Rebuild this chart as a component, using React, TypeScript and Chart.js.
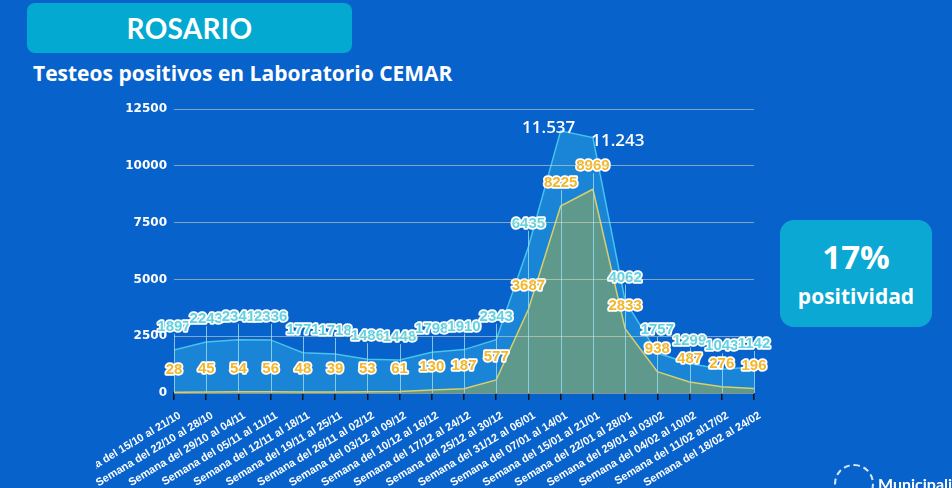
import React, { useEffect, useRef } from "react";
import { Chart, registerables } from "chart.js";

Chart.register(...registerables);

const categories = [
  "Semana del 15/10 al 21/10",
  "Semana del 22/10 al 28/10",
  "Semana del 29/10 al 04/11",
  "Semana del 05/11 al 11/11",
  "Semana del 12/11 al 18/11",
  "Semana del 19/11 al 25/11",
  "Semana del 26/11 al 02/12",
  "Semana del 03/12 al 09/12",
  "Semana del 10/12 al 16/12",
  "Semana del 17/12 al 24/12",
  "Semana del 25/12 al 30/12",
  "Semana del 31/12 al 06/01",
  "Semana del 07/01 al 14/01",
  "Semana del 15/01 al 21/01",
  "Semana del 22/01 al 28/01",
  "Semana del 29/01 al 03/02",
  "Semana del 04/02 al 10/02",
  "Semana del 11/02 al17/02",
  "Semana del 18/02 al 24/02",
];

const testeos = [1897, 2243, 2341, 2336, 1771, 1718, 1486, 1448, 1798, 1910, 2343, 6435, 11537, 11243, 4062, 1757, 1299, 1043, 1142];
const positivos = [28, 45, 54, 56, 48, 39, 53, 61, 130, 187, 577, 3687, 8225, 8969, 2833, 938, 487, 276, 196];
const peakIndices = [12, 13];
const yTicks = [0, 2500, 5000, 7500, 10000, 12500];

const BG = "#0862cc";
const CYAN_TEXT = "#62d2e0";
const GOLD_TEXT = "#f4b62a";

function fmtThousands(v: number) {
  const s = String(v);
  return s.replace(/\B(?=(\d{3})+(?!\d))/g, ".");
}

const labelPlugin = {
  id: "valueLabels",
  afterDatasetsDraw(chart: any) {
    const ctx = chart.ctx;
    const xs = chart.scales.x;
    const ys = chart.scales.y;
    const base = ys.getPixelForValue(0);
    const LIFT = 23;
    ctx.save();
    ctx.strokeStyle = "rgba(150,215,240,0.85)";
    ctx.lineWidth = 1;
    for (let i = 0; i < categories.length; i++) {
      const px = Math.round(xs.getPixelForValue(i)) + 0.5;
      const isPeak = peakIndices.includes(i);
      const v = isPeak ? positivos[i] : testeos[i];
      const top = ys.getPixelForValue(v) - LIFT + 7;
      ctx.beginPath();
      ctx.moveTo(px, top);
      ctx.lineTo(px, base);
      ctx.stroke();
    }
    const drawLabel = (text: string, x: number, y: number, fill: string) => {
      ctx.font = "bold 15px 'Liberation Sans', Arial, sans-serif";
      ctx.textAlign = "center";
      ctx.textBaseline = "middle";
      ctx.lineJoin = "round";
      ctx.lineWidth = 3.5;
      ctx.strokeStyle = "#ffffff";
      ctx.strokeText(text, x, y);
      ctx.fillStyle = fill;
      ctx.fillText(text, x, y);
    };
    for (let i = 0; i < categories.length; i++) {
      const px = xs.getPixelForValue(i);
      drawLabel(String(positivos[i]), px, ys.getPixelForValue(positivos[i]) - LIFT, GOLD_TEXT);
    }
    for (let i = 0; i < categories.length; i++) {
      if (peakIndices.includes(i)) continue;
      const px = xs.getPixelForValue(i);
      drawLabel(String(testeos[i]), px, ys.getPixelForValue(testeos[i]) - LIFT, CYAN_TEXT);
    }
    ctx.font = "600 17px 'Open Sans', sans-serif";
    ctx.textAlign = "center";
    ctx.textBaseline = "middle";
    ctx.fillStyle = "#ffffff";
    const offs = [
      [-12, -3],
      [25, 4],
    ];
    peakIndices.forEach((idx, k) => {
      const px = xs.getPixelForValue(idx);
      const py = ys.getPixelForValue(testeos[idx]);
      ctx.fillText(fmtThousands(testeos[idx]), px + offs[k][0], py + offs[k][1]);
    });
    ctx.restore();
  },
};

function ChartView() {
  const ref = useRef<HTMLCanvasElement | null>(null);
  useEffect(() => {
    if (!ref.current) return;
    const chart = new Chart(ref.current, {
      type: "line",
      data: {
        labels: categories,
        datasets: [
          {
            label: "Positivos",
            data: positivos,
            order: 0,
            fill: "origin",
            backgroundColor: "#5f998c",
            borderColor: "#d6cf6c",
            borderWidth: 1.5,
            pointRadius: 0,
            tension: 0,
          },
          {
            label: "Testeos",
            data: testeos,
            order: 1,
            fill: "origin",
            backgroundColor: "#1a84d6",
            borderColor: "#48c2ee",
            borderWidth: 1.5,
            pointRadius: 0,
            tension: 0,
          },
        ],
      },
      options: {
        animation: false,
        responsive: false,
        maintainAspectRatio: false,
        layout: { padding: { top: 109, right: 198, bottom: 0, left: 0 } },
        plugins: { legend: { display: false }, tooltip: { enabled: false } },
        scales: {
          x: {
            type: "category",
            offset: false,
            grid: { drawOnChartArea: false, drawTicks: true, tickLength: 7, color: "#10151c", lineWidth: 1.5 },
            border: { display: true, color: "#10151c", width: 1.5 },
            ticks: {
              color: "#ffffff",
              font: { family: "'Liberation Sans', Arial, sans-serif", size: 11, weight: "bold" },
              minRotation: 31,
              maxRotation: 31,
              autoSkip: false,
              padding: 9,
              labelOffset: 6,
            },
            afterFit: (s: any) => {
              s.height = 95;
              s.paddingLeft = 0;
              s.paddingRight = 0;
            },
          },
          y: {
            min: 0,
            max: 12500,
            afterBuildTicks: (s: any) => {
              s.ticks = yTicks.map((v) => ({ value: v }));
            },
            grid: { color: "rgba(225,222,190,0.55)", lineWidth: 1, drawTicks: false, z: 1 },
            border: { display: false },
            ticks: {
              color: "#ffffff",
              font: { family: "'DejaVu Sans', sans-serif", size: 12, weight: "bold" },
              padding: 7,
              callback: (v: any) => String(v),
            },
            afterFit: (s: any) => {
              s.width = 78;
            },
          },
        },
      },
      plugins: [labelPlugin],
    });
    return () => chart.destroy();
  }, []);
  return (
    <canvas
      ref={ref}
      width={856}
      height={488}
      style={{ position: "absolute", left: 96, top: 0, width: 856, height: 488 }}
    />
  );
}

export default function App() {
  useEffect(() => {
    document.body.style.margin = "0";
  }, []);
  return (
    <div
      style={{
        position: "absolute",
        left: 0,
        top: 0,
        width: 952,
        height: 488,
        background: BG,
        overflow: "hidden",
        fontFamily: "Lato, 'Open Sans', sans-serif",
      }}
    >
      <div
        style={{
          position: "absolute",
          left: 27,
          top: 3,
          width: 325,
          height: 50,
          borderRadius: 8,
          background: "#03a9d1",
          color: "#fff",
          fontWeight: 700,
          fontSize: 28,
          display: "flex",
          alignItems: "center",
          justifyContent: "center",
          letterSpacing: 0.3,
        }}
      >
        ROSARIO
      </div>
      <div
        style={{
          position: "absolute",
          left: 33,
          top: 60,
          color: "#fff",
          fontWeight: 700,
          fontSize: 21,
          whiteSpace: "nowrap",
          fontFamily: "'Open Sans', sans-serif",
          lineHeight: "26px",
        }}
      >
        Testeos positivos en Laboratorio CEMAR
      </div>
      <ChartView />
      <div
        style={{
          position: "absolute",
          left: 780,
          top: 220,
          width: 152,
          height: 107,
          borderRadius: 14,
          background: "#0aa8d2",
          color: "#fff",
          fontWeight: 700,
          display: "flex",
          flexDirection: "column",
          alignItems: "center",
          justifyContent: "center",
          fontFamily: "'Open Sans', sans-serif",
        }}
      >
        <div style={{ fontSize: 33, lineHeight: "40px" }}>17%</div>
        <div style={{ fontSize: 21, lineHeight: "28px", marginTop: 5 }}>positividad</div>
      </div>
      <div
        style={{
          position: "absolute",
          left: 834,
          top: 464,
          width: 40,
          height: 40,
          borderRadius: "50%",
          border: "2px dashed rgba(255,255,255,0.85)",
          boxSizing: "border-box",
        }}
      />
      <div
        style={{
          position: "absolute",
          left: 878,
          top: 474,
          color: "#fff",
          fontSize: 16,
          fontWeight: 700,
          whiteSpace: "nowrap",
        }}
      >
        Municipalidad
      </div>
    </div>
  );
}
